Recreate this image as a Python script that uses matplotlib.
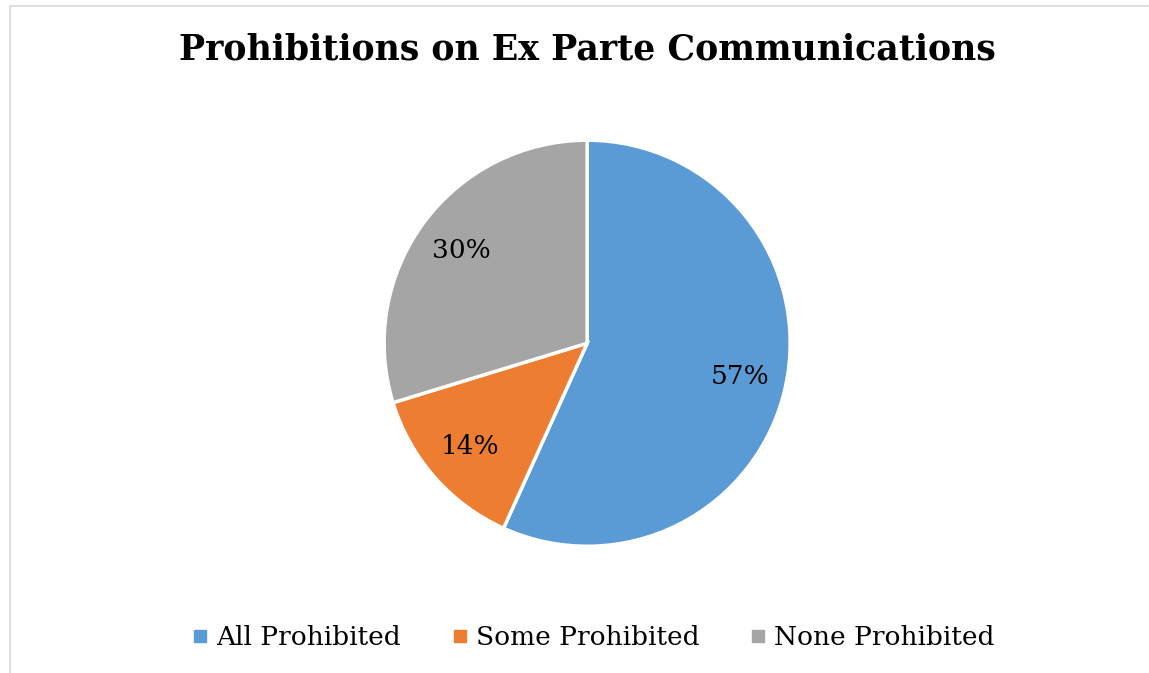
import matplotlib.pyplot as plt
from matplotlib.lines import Line2D
from matplotlib.patches import Rectangle

categorias = ["All Prohibited", "Some Prohibited", "None Prohibited"]
valores = [21, 5, 11]
colores = ["#5B9BD5", "#ED7D31", "#A5A5A5"]

plt.rcParams['font.family'] = ['DejaVu Serif']

fig = plt.figure(figsize=(11.49, 6.73), dpi=100)

# marco gris claro del grafico
fig.patches.append(Rectangle((10 / 1149, -0.01), 1.02, (673 - 6) / 673 + 0.01,
                             transform=fig.transFigure, fill=False,
                             edgecolor="#D9D9D9", linewidth=1.2))

ax = fig.add_axes([0.511 - 0.1767, 0.490 - 0.3017, 0.3534, 0.6034])
ax.pie(valores, colors=colores, startangle=90, counterclock=False,
       autopct='%1.0f%%', pctdistance=0.77,
       wedgeprops=dict(edgecolor='white', linewidth=2.5),
       textprops=dict(fontsize=19, color='black'))
ax.set_xlim(-1.0, 1.0)
ax.set_ylim(-1.0, 1.0)
ax.set_aspect('equal')

fig.text(0.511, 0.926, "Prohibitions on Ex Parte Communications",
         ha='center', va='center', fontsize=25, fontweight='bold')

handles = [Line2D([], [], marker='s', linestyle='', markersize=8,
                  markerfacecolor=c, markeredgecolor=c) for c in colores]
fig.legend(handles, categorias, loc='center', ncol=3,
           bbox_to_anchor=(0.517, 0.053), frameon=False, fontsize=19,
           handlelength=0.5, handletextpad=0.35, columnspacing=2.0)

fig.savefig("out.png", dpi=100)
